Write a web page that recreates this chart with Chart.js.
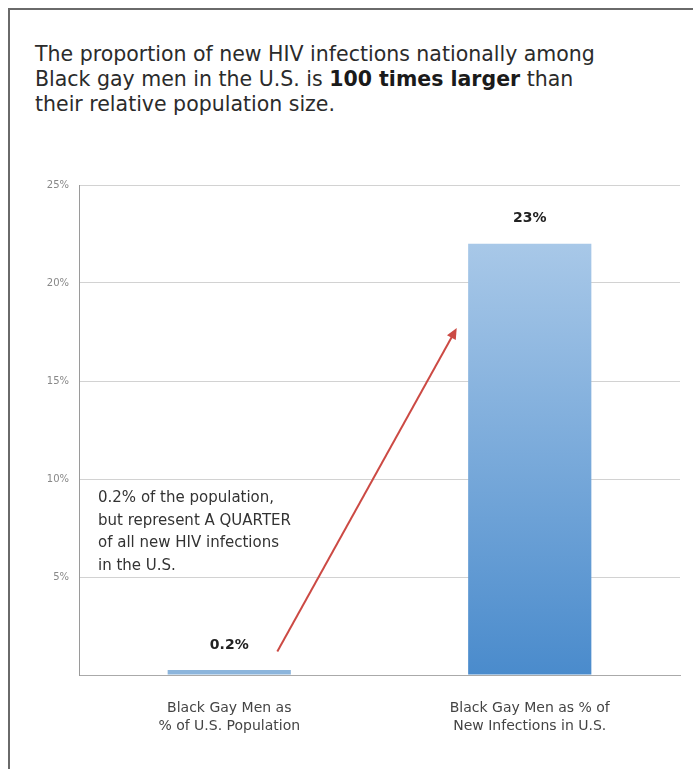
<!DOCTYPE html>
<html>
<head>
<meta charset="utf-8">
<script src="https://cdn.jsdelivr.net/npm/chart.js@4/dist/chart.umd.min.js"></script>
<style>
  html, body { margin: 0; padding: 0; background: #fff; }
  body { width: 693px; height: 769px; position: relative; overflow: hidden; font-family: "DejaVu Sans", sans-serif; }
  #frame { position: absolute; left: 8px; top: 8px; width: 800px; height: 800px; border-left: 2px solid #6a6a6a; border-top: 2px solid #6a6a6a; }
  #title { position: absolute; left: 35px; top: 42px; font-size: 20.5px; line-height: 25px; color: #2b2b2b; white-space: nowrap; }
  #title b { color: #1a1a1a; }
  #note { position: absolute; left: 98px; top: 486px; font-size: 15px; line-height: 22.5px; color: #333; white-space: nowrap; }
  #wrap { position: absolute; left: 0; top: 150px; width: 693px; height: 619px; }
</style>
</head>
<body>
<div id="frame"></div>
<div id="title">The proportion of new HIV infections nationally among<br>Black gay men in the U.S. is <b>100 times larger</b> than<br>their relative population size.</div>
<div id="wrap"><canvas id="c"></canvas></div>
<div id="note">0.2% of the population,<br>but represent A QUARTER<br>of all new HIV infections<br>in the U.S.</div>
<script>
// ---- data ----
const categories = [
  ["Black Gay Men as", "% of U.S. Population"],
  ["Black Gay Men as % of", "New Infections in U.S."]
];
const values = [0.25, 22];
const valueLabels = ["0.2%", "23%"];
const yTickValues = [0, 5, 10, 15, 20, 25];
// arrow annotation in data space: [category index, value]
const arrowFrom = [0.16, 1.2];
const arrowTo = [0.757, 17.7];

const FONT = "'DejaVu Sans', sans-serif";

const valueLabelPlugin = {
  id: 'valueLabels',
  afterDatasetsDraw(chart) {
    const ctx = chart.ctx;
    const meta = chart.getDatasetMeta(0);
    ctx.save();
    ctx.font = "bold 14px " + FONT;
    ctx.fillStyle = "#222";
    ctx.textAlign = "center";
    ctx.textBaseline = "middle";
    meta.data.forEach((bar, i) => {
      ctx.fillText(valueLabels[i], bar.x, bar.y - 25);
    });
    ctx.restore();
  }
};

const arrowPlugin = {
  id: 'arrow',
  afterDatasetsDraw(chart) {
    const xs = chart.scales.x, ys = chart.scales.y;
    const x1 = xs.getPixelForValue(arrowFrom[0]), y1 = ys.getPixelForValue(arrowFrom[1]);
    const x2 = xs.getPixelForValue(arrowTo[0]), y2 = ys.getPixelForValue(arrowTo[1]);
    const ctx = chart.ctx;
    const ang = Math.atan2(y2 - y1, x2 - x1);
    const head = 11, hw = 5;
    ctx.save();
    ctx.strokeStyle = "#cc4a44";
    ctx.fillStyle = "#cc4a44";
    ctx.lineWidth = 2;
    ctx.beginPath();
    ctx.moveTo(x1, y1);
    ctx.lineTo(x2 - Math.cos(ang) * head * 0.8, y2 - Math.sin(ang) * head * 0.8);
    ctx.stroke();
    ctx.beginPath();
    ctx.moveTo(x2, y2);
    ctx.lineTo(x2 - Math.cos(ang) * head - Math.sin(ang) * hw, y2 - Math.sin(ang) * head + Math.cos(ang) * hw);
    ctx.lineTo(x2 - Math.cos(ang) * head + Math.sin(ang) * hw, y2 - Math.sin(ang) * head - Math.cos(ang) * hw);
    ctx.closePath();
    ctx.fill();
    ctx.restore();
  }
};

function barColor(context) {
  const chart = context.chart;
  const area = chart.chartArea;
  if (!area) return "#7aa9d9";
  if (context.dataIndex === 0) return "#8cb5dc";
  const ys = chart.scales.y;
  const top = ys.getPixelForValue(values[context.dataIndex]);
  const g = chart.ctx.createLinearGradient(0, top, 0, area.bottom);
  g.addColorStop(0, "#a8c8e8");
  g.addColorStop(1, "#4a8bcc");
  return g;
}

new Chart(document.getElementById("c"), {
  type: "bar",
  data: {
    labels: categories,
    datasets: [{
      data: values,
      backgroundColor: barColor,
      borderWidth: 0,
      barPercentage: 0.41,
      categoryPercentage: 1
    }]
  },
  options: {
    responsive: true,
    maintainAspectRatio: false,
    animation: false,
    layout: { padding: { top: 35, right: 13, left: 0, bottom: 0 } },
    plugins: { legend: { display: false }, tooltip: { enabled: false }, title: { display: false } },
    scales: {
      x: {
        grid: { display: false },
        border: { color: "#aaaaaa", width: 1 },
        ticks: { font: { family: FONT, size: 14, lineHeight: 1.3 }, color: "#444", padding: 16, maxRotation: 0, autoSkip: false },
        afterFit(scale) { scale.height = 94; }
      },
      y: {
        min: 0, max: 25,
        afterBuildTicks(scale) { scale.ticks = yTickValues.map(v => ({ value: v })); },
        grid: { color: "#d2d2d2", drawTicks: false, lineWidth: 1 },
        border: { color: "#9a9a9a", width: 1 },
        ticks: {
          font: { family: FONT, size: 10 },
          color: "#888",
          padding: 10,
          callback: v => v === 0 ? "" : v + "%"
        },
        afterFit(scale) { scale.width = 79; }
      }
    }
  },
  plugins: [valueLabelPlugin, arrowPlugin]
});
</script>
</body>
</html>
